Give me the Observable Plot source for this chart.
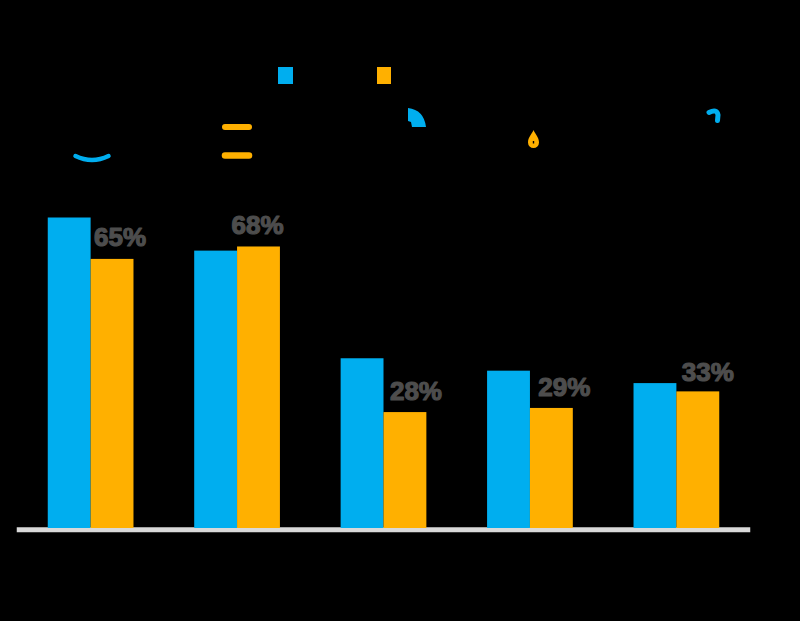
<!DOCTYPE html>
<html>
<head>
<meta charset="utf-8">
<style>
  html, body { margin: 0; padding: 0; background: #000; }
  svg { display: block; }
</style>
<script src="https://cdn.jsdelivr.net/npm/d3@7"></script>
<script src="https://cdn.jsdelivr.net/npm/@observablehq/plot@0.6"></script>
</head>
<body>
<div id="chart"></div>
<script>
// Category names and the series names are not legible in the reference.
const groups = ["1", "2", "3", "4", "5"];
const seriesNames = ["Series 1", "Series 2"];
const firstValues = [75, 67, 41, 38, 35];
const secondValues = [65, 68, 28, 29, 33];
const blue = "#00AEEF";
const orange = "#FFB000";
const grey = "#4D4D4D";

const rows = groups.flatMap((g, i) => [
  {group: g, series: seriesNames[0], value: firstValues[i]},
  {group: g, series: seriesNames[1], value: secondValues[i]}
]);

// Labels sit beside the orange bars with hand-placed nudges, as in the reference.
const labelNudge = [7.5, -1.5, 10.5, 12.5, 9.5];
const labelRise = [22, 21, 21, 21, 19];
const labelMarks = groups.map((g, i) =>
  Plot.text([{group: g, series: seriesNames[1], value: secondValues[i]}], {
    fx: "group", x: "series", y: "value",
    text: d => d.value + "%",
    dx: labelNudge[i], dy: -labelRise[i],
    fill: grey, stroke: grey, strokeWidth: 1.2,
    fontSize: 26, fontWeight: 700, fontFamily: "Liberation Sans",
    textAnchor: "middle", lineAnchor: "middle"
  })
);

// Coloured decorative fragments of the legend and header icons.
function decorations() {
  const g = d3.create("svg:g");
  const rect = (x, y, w, h, fill) =>
    g.append("rect").attr("x", x).attr("y", y).attr("width", w).attr("height", h).attr("fill", fill);
  const path = (d, fill, stroke, sw) =>
    g.append("path").attr("d", d).attr("fill", fill).attr("fill-rule", "evenodd")
      .attr("stroke", stroke).attr("stroke-width", sw).attr("stroke-linecap", "round");
  rect(278, 67, 15, 17, blue);
  rect(377, 67, 14, 17, orange);
  path("M75.5 156 Q92 164 108.5 156", "none", blue, 4.5);
  path("M225 127 H249", "none", orange, 6);
  path("M225 155.5 H249", "none", orange, 6.5);
  path("M408 108 Q424 110 426 127 H412 L411 122 L408 121 Z", blue, "none", 0);
  path("M533.5 130 C535 134 539 137 539 142.5 A5.5 5.5 0 0 1 528 142.5 C528 137 532 134 533.5 130 Z M532.8 141 h1.4 v2.5 h-1.4 Z", orange, "none", 0);
  path("M709 112.5 Q717 108.5 718 115 L717.5 120.5", "none", blue, 5);
  return g.node();
}

const chart = Plot.plot({
  width: 800,
  height: 621,
  marginTop: 114,
  marginBottom: 93,
  marginLeft: 17,
  marginRight: 50,
  style: {background: "#000"},
  fx: {domain: groups, paddingInner: 0.4146, paddingOuter: 0.21, round: false, axis: null},
  x: {domain: seriesNames, padding: 0, round: false, axis: null},
  y: {domain: [0, 100], axis: null},
  color: {domain: seriesNames, range: [blue, orange]},
  marks: [
    Plot.frame({anchor: "bottom", stroke: "#D9D9D9", strokeWidth: 5, dy: 1.3, insetLeft: -29, insetRight: -28, facet: "super"}),
    Plot.barY(rows, {fx: "group", x: "series", y: "value", fill: "series"}),
    ...labelMarks
  ]
});
chart.append(decorations());
document.getElementById("chart").append(chart);
</script>
</body>
</html>
